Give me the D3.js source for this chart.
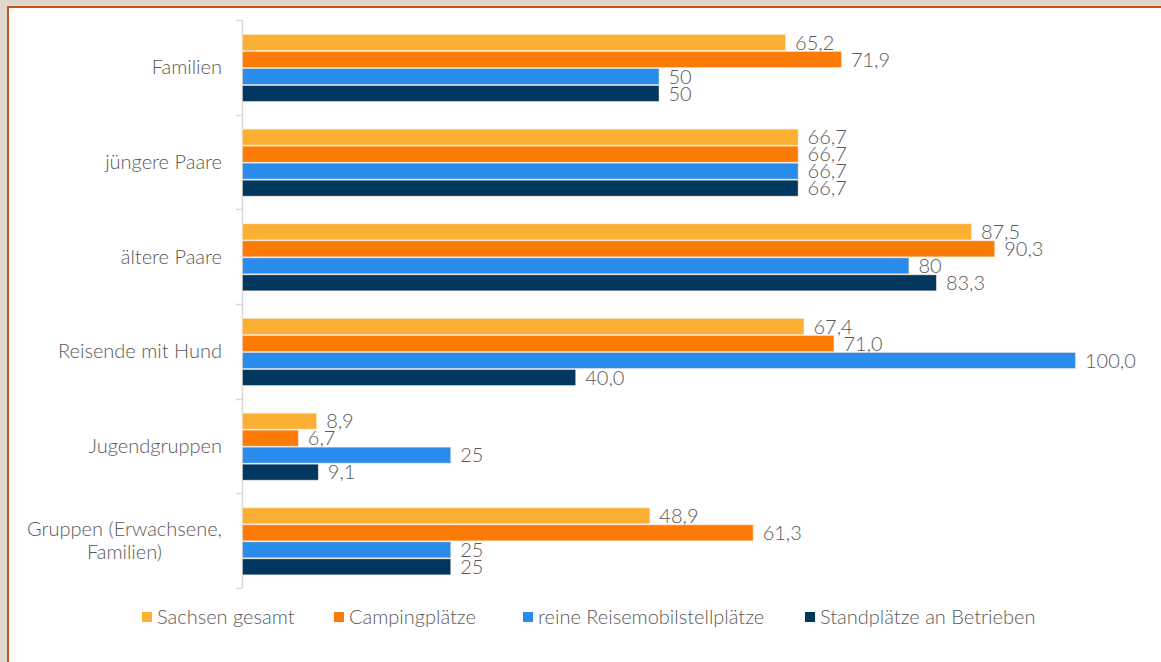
<!DOCTYPE html>
<html>
<head>
<meta charset="utf-8">
<script src="https://cdn.jsdelivr.net/npm/d3@7"></script>
<style>
  html, body { margin: 0; padding: 0; background: #e0d8ce; overflow: hidden; }
  .frame {
    position: absolute; left: 7px; top: 6px; width: 1200px; height: 700px;
    border-left: 2px solid #c9531f; border-top: 2px solid #c9531f;
    background: #fff;
  }
  svg { position: absolute; left: 0; top: 0; }
  text { font-family: Lato, "Open Sans", sans-serif; fill: #595959; }
</style>
</head>
<body>
<div class="frame"></div>
<svg id="chart" width="1161" height="662"></svg>
<script>
const categories = ["Familien", "jüngere Paare", "ältere Paare", "Reisende mit Hund", "Jugendgruppen", "Gruppen (Erwachsene, Familien)"];
const seriesNames = ["Sachsen gesamt", "Campingplätze", "reine Reisemobilstellplätze", "Standplätze an Betrieben"];
const seriesColors = ["#fbb034", "#fc7b06", "#2a8cea", "#02375f"];

const sachsenGesamt = [65.2, 66.7, 87.5, 67.4, 8.9, 48.9];
const campingplaetze = [71.9, 66.7, 90.3, 71.0, 6.7, 61.3];
const reisemobil = [50, 66.7, 80, 100.0, 25, 25];
const standplaetze = [50, 66.7, 83.3, 40.0, 9.1, 25];

// labels as printed in the source (mixed decimals)
const sachsenLabels = ["65,2", "66,7", "87,5", "67,4", "8,9", "48,9"];
const campingLabels = ["71,9", "66,7", "90,3", "71,0", "6,7", "61,3"];
const reisemobilLabels = ["50", "66,7", "80", "100,0", "25", "25"];
const standLabels = ["50", "66,7", "83,3", "40,0", "9,1", "25"];

const values = [sachsenGesamt, campingplaetze, reisemobil, standplaetze];
const labels = [sachsenLabels, campingLabels, reisemobilLabels, standLabels];

const svg = d3.select("#chart");
const axisX = 242, axisTop = 20, axisBottom = 588;

const x = d3.scaleLinear().domain([0, 100]).range([axisX, 1075]);
const y0 = d3.scaleBand().domain(categories).range([axisTop, axisBottom]);
const y1 = d3.scaleBand().domain(seriesNames).range([14, 82]);

const data = categories.map((c, i) => ({
  cat: c,
  bars: seriesNames.map((s, j) => ({ s, j, v: values[j][i], label: labels[j][i] }))
}));

// axis line + ticks at band edges
const lineColor = "#d9d9d9";
svg.append("line")
  .attr("x1", axisX + 0.5).attr("x2", axisX + 0.5)
  .attr("y1", axisTop).attr("y2", axisBottom)
  .attr("stroke", lineColor).attr("stroke-width", 1.5);
const edges = categories.map(c => y0(c)).concat([axisBottom]);
svg.selectAll("line.tick").data(edges).enter().append("line")
  .attr("class", "tick")
  .attr("x1", axisX - 6).attr("x2", axisX)
  .attr("y1", d => Math.round(d) + 0.5).attr("y2", d => Math.round(d) + 0.5)
  .attr("stroke", lineColor).attr("stroke-width", 1.5);

const groups = svg.selectAll("g.grp").data(data).enter().append("g")
  .attr("class", "grp")
  .attr("transform", d => "translate(0," + y0(d.cat) + ")");

groups.selectAll("rect").data(d => d.bars).enter().append("rect")
  .attr("x", x(0) + 0.5)
  .attr("y", d => y1(d.s) + 0.5)
  .attr("width", d => x(d.v) - x(0))
  .attr("height", y1.bandwidth() - 1)
  .attr("fill", d => seriesColors[d.j])
  .attr("stroke", "#fde9d6")
  .attr("stroke-opacity", 0.6)
  .attr("stroke-width", 0.8);

groups.selectAll("text.val").data(d => d.bars).enter().append("text")
  .attr("class", "val")
  .attr("x", d => x(d.v) + 10)
  .attr("y", d => y1(d.s) + y1.bandwidth() / 2)
  .attr("dy", "0.36em")
  .attr("font-size", "20px")
  .attr("font-weight", 300)
  .text(d => d.label);

// category labels, wrapped and centered as a block, right aligned to the axis
const catText = svg.selectAll("text.cat").data(data).enter().append("text")
  .attr("class", "cat")
  .attr("font-size", "20px")
  .attr("font-weight", 300);

catText.each(function(d) {
  const t = d3.select(this);
  const lines = d.cat.indexOf("(") > 0 ? [d.cat.slice(0, d.cat.indexOf("Familien)")).trim(), "Familien)"] : [d.cat];
  const cy = y0(d.cat) + y0.bandwidth() / 2;
  const lh = 23;
  const spans = lines.map((ln, k) => t.append("tspan").text(ln)
    .attr("y", cy + (k - (lines.length - 1) / 2) * lh)
    .attr("dy", "0.35em"));
  const widths = spans.map(s => s.node().getComputedTextLength());
  const maxW = d3.max(widths);
  const right = 222;
  spans.forEach(s => {
    s.attr("text-anchor", "middle").attr("x", right - maxW / 2);
  });
});

// legend
const legend = svg.append("g").attr("transform", "translate(142,617)");
const legendX = [0, 192, 381, 663];
seriesNames.forEach((s, j) => {
  const g = legend.append("g").attr("transform", "translate(" + legendX[j] + ",0)");
  g.append("rect").attr("x", 0).attr("y", -5).attr("width", 10).attr("height", 10)
    .attr("fill", seriesColors[j]);
  g.append("text").attr("x", 15).attr("dy", "0.35em")
    .attr("font-size", "20px").attr("font-weight", 300).text(s);
});
</script>
</body>
</html>
